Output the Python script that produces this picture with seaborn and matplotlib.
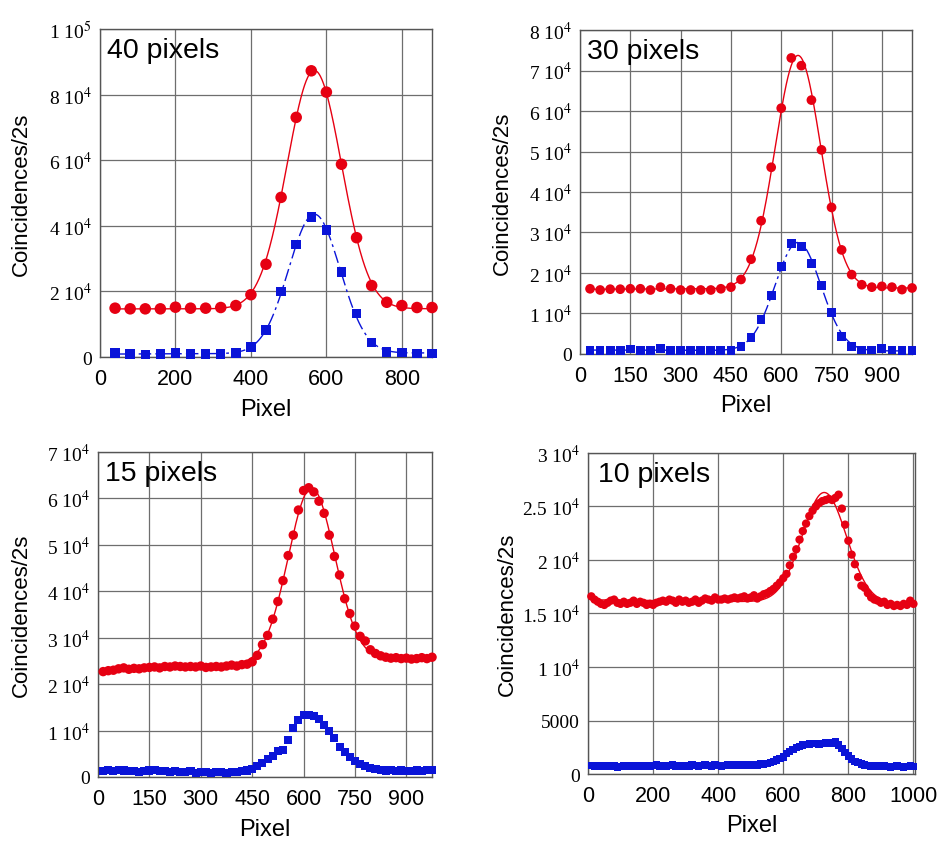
import numpy as np
import pandas as pd
import matplotlib
matplotlib.use("Agg")
import matplotlib.pyplot as plt
import seaborn as sns

# ---------------- data ----------------
# Panel 1: 40 pixels
p1_x = [40, 80, 120, 160, 200, 240, 280, 320, 360, 400, 440, 480, 520, 560, 600, 640, 680, 720, 760, 800, 840, 880]
p1_red = [14900, 14700, 14700, 14700, 15200, 14900, 14900, 15100, 15700, 19000, 28300, 48700, 73100, 87300,
          80800, 58800, 36400, 21800, 16700, 15700, 15100, 15100]
p1_blue = [1200, 900, 700, 900, 1200, 900, 900, 900, 1200, 3000, 8300, 20000, 34300, 42700,
           38800, 25900, 13200, 4500, 1600, 1400, 1100, 1100]

# Panel 2: 30 pixels
p2_x = [30, 60, 90, 120, 150, 180, 210, 240, 270, 300, 330, 360, 390, 420, 450, 480, 510, 540, 570, 600,
        630, 660, 690, 720, 750, 780, 810, 840, 870, 900, 930, 960, 990]
p2_red = [16100, 15800, 16000, 16000, 16100, 16100, 15800, 16500, 16100, 15800, 15800, 15800, 15800, 16100,
          16500, 18400, 23400, 32900, 46100, 60700, 73100, 71200, 62700, 50400, 36200, 25700, 19600, 17100,
          16500, 16700, 16500, 15900, 16300]
p2_blue = [900, 900, 900, 900, 1200, 900, 800, 1300, 900, 900, 900, 900, 900, 900,
           900, 1800, 4000, 8500, 14500, 21600, 27300, 26500, 22400, 16900, 10200, 4400, 1800, 1000,
           1000, 1300, 1000, 900, 900]

# Panel 3: 15 pixels
p3_x = list(range(15, 976, 15))
p3_red = [22700, 22900, 23000, 23300, 23500, 23200, 23400, 23300, 23500, 23600, 23700, 23500, 23800, 23700,
          23900, 23800, 23700, 23800, 23700, 23900, 23600, 23700, 23800, 23700, 23900, 24100, 23900, 24200,
          24300, 24800, 26200, 28500, 30500, 34000, 37800, 42300, 47700, 52100, 57500, 61700, 62300, 61400,
          59400, 56800, 52100, 47500, 43500, 38400, 35200, 32500, 30300, 29300, 27400, 26600, 26100, 25800,
          25600, 25700, 25500, 25600, 25400, 25500, 25700, 25500, 25800]
p3_blue = [1300, 1500, 1200, 1600, 1400, 1300, 1200, 1100, 1300, 1400, 1500, 1200, 1300, 1100,
           1200, 1000, 1100, 1200, 900, 1000, 1100, 900, 1000, 1100, 900, 1000, 1100, 1200,
           1400, 1800, 2300, 3000, 3900, 4600, 5600, 5800, 8000, 10500, 12300, 13400, 13300, 13200,
           12500, 11300, 10000, 8300, 6500, 5300, 4300, 3500, 2800, 2300, 1900, 1700, 1500, 1400,
           1500, 1300, 1400, 1300, 1200, 1400, 1300, 1500, 1600]

# Panel 4: 10 pixels
p4_x = list(range(10, 1001, 10))
p4_red = [16600, 16300, 16100, 15900, 15800, 16000, 16200, 16300, 16000, 15900,
          16100, 15900, 16000, 16200, 15900, 16100, 16000, 15800, 15900, 15800,
          16000, 16100, 16200, 16100, 16300, 16200, 16000, 16300, 16100, 16200,
          16000, 16100, 16300, 16000, 16200, 16400, 16300, 16200, 16500, 16300,
          16300, 16400, 16300, 16400, 16500, 16400, 16500, 16600, 16400, 16500,
          16700, 16400, 16600, 16800, 16900, 17100, 17300, 17600, 17900, 18300,
          18700, 19500, 20300, 21000, 21900, 22700, 23400, 24100, 24600, 25000,
          25300, 25500, 25600, 25700, 25600, 25800, 26100, 24800, 23300, 21800,
          20500, 19600, 18400, 17600, 17400, 16900, 16500, 16300, 16200, 16000,
          16100, 15800, 15900, 15700, 15800, 15700, 15900, 15800, 16200, 15900]
p4_blue = [800, 750, 800, 700, 750, 800, 700, 750, 650, 700,
           750, 800, 750, 700, 800, 750, 700, 800, 750, 800,
           850, 750, 800, 700, 800, 850, 750, 800, 700, 800,
           750, 850, 800, 750, 800, 850, 800, 750, 850, 800,
           750, 800, 850, 900, 800, 850, 800, 850, 900, 850,
           900, 850, 950, 900, 1000, 1100, 1200, 1300, 1450, 1600,
           1900, 2100, 2300, 2450, 2600, 2700, 2750, 2800, 2850, 2850,
           2800, 2850, 2900, 2850, 2900, 3000, 2700, 2400, 2000, 1700,
           1400, 1200, 1100, 950, 850, 800, 750, 700, 750, 700,
           750, 700, 650, 700, 750, 700, 650, 700, 750, 700]

titles = ["40 pixels", "30 pixels", "15 pixels", "10 pixels"]
xticks = [[0, 200, 400, 600, 800],
          [0, 150, 300, 450, 600, 750, 900],
          [0, 150, 300, 450, 600, 750, 900],
          [0, 200, 400, 600, 800, 1000]]
yticks = [[0, 20000, 40000, 60000, 80000, 100000],
          [0, 10000, 20000, 30000, 40000, 50000, 60000, 70000, 80000],
          [0, 10000, 20000, 30000, 40000, 50000, 60000, 70000],
          [0, 5000, 10000, 15000, 20000, 25000, 30000]]
ytick_labels = [["0", "2 10$^4$", "4 10$^4$", "6 10$^4$", "8 10$^4$", "1 10$^5$"],
                ["0", "1 10$^4$", "2 10$^4$", "3 10$^4$", "4 10$^4$", "5 10$^4$", "6 10$^4$", "7 10$^4$", "8 10$^4$"],
                ["0", "1 10$^4$", "2 10$^4$", "3 10$^4$", "4 10$^4$", "5 10$^4$", "6 10$^4$", "7 10$^4$"],
                ["0", "5000", "1 10$^4$", "1.5 10$^4$", "2 10$^4$", "2.5 10$^4$", "3 10$^4$"]]
xlims = [(0, 880), (0, 990), (0, 975), (0, 1005)]
ylims = [(0, 100000), (0, 80000), (0, 70000), (0, 30000)]


def gauss_fit(x, y, xs):
    x = np.asarray(x, float)
    y = np.asarray(y, float)
    best = (np.inf, None, None, None)
    for mu in np.arange(x.min(), x.max(), 4.0):
        for s in np.arange(20.0, 300.0, 4.0):
            g = np.exp(-(x - mu) ** 2 / (2 * s * s))
            A = np.column_stack([np.ones_like(x), x, g])
            coef = np.linalg.lstsq(A, y, rcond=None)[0]
            r = ((A @ coef - y) ** 2).sum()
            if r < best[0]:
                best = (r, mu, s, coef)
    _, mu, s, c = best
    return c[0] + c[1] * xs + c[2] * np.exp(-(xs - mu) ** 2 / (2 * s * s))


sns.set_style("white")
plt.rcParams["font.family"] = ["Liberation Sans", "DejaVu Sans"]
plt.rcParams["mathtext.fontset"] = "stix"
plt.rcParams["text.color"] = "black"
plt.rcParams["axes.labelcolor"] = "black"
plt.rcParams["xtick.color"] = "black"
plt.rcParams["ytick.color"] = "black"

RED = "#e60012"
BLUE = "#0a14d8"

fig = plt.figure(figsize=(9.46, 8.45), dpi=100)
rects = [(0.1057, 0.5763, 0.351, 0.388),
         (0.6131, 0.5799, 0.351, 0.3834),
         (0.1036, 0.0793, 0.3531, 0.3846),
         (0.6216, 0.0828, 0.3457, 0.3800)]
xs_data = [p1_x, p2_x, p3_x, p4_x]
reds = [p1_red, p2_red, p3_red, p4_red]
blues = [p1_blue, p2_blue, p3_blue, p4_blue]
red_ms = [8.3, 7, 6.8, 6]
blue_ms = [6.8, 6.3, 5.8, 5.3]
blue_line = [True, True, False, False]
ylabel_x = [-0.205, -0.202, -0.198, -0.215]

for i in range(4):
    ax = fig.add_axes(rects[i])
    df = pd.DataFrame({"Pixel": xs_data[i], "red": reds[i], "blue": blues[i]})
    xs = np.linspace(df["Pixel"].min(), df["Pixel"].max(), 600)
    fit_r = pd.DataFrame({"Pixel": xs, "fit": gauss_fit(df["Pixel"], df["red"], xs)})
    sns.lineplot(data=fit_r, x="Pixel", y="fit", ax=ax, color=RED, lw=1.0, zorder=3)
    if blue_line[i]:
        fit_b = pd.DataFrame({"Pixel": xs, "fit": gauss_fit(df["Pixel"], df["blue"], xs)})
        sns.lineplot(data=fit_b, x="Pixel", y="fit", ax=ax, color=BLUE, lw=1.0, zorder=3,
                     dashes=False, linestyle=(0, (9, 3, 2, 3)))
    sns.scatterplot(data=df, x="Pixel", y="red", ax=ax, color=RED, marker="o",
                    s=red_ms[i] ** 2, edgecolor="none", linewidth=0, zorder=4, clip_on=False)
    sns.scatterplot(data=df, x="Pixel", y="blue", ax=ax, color=BLUE, marker="s",
                    s=blue_ms[i] ** 2, edgecolor="none", linewidth=0, zorder=4, clip_on=False)

    ax.set_xlim(*xlims[i])
    ax.set_ylim(*ylims[i])
    ax.set_xticks(xticks[i])
    ax.set_xticklabels([str(t) for t in xticks[i]], fontsize=15.5)
    ax.set_yticks(yticks[i])
    ax.set_yticklabels(ytick_labels[i], fontsize=14, family="Liberation Serif")
    ax.tick_params(axis="x", length=0, pad=8)
    ax.tick_params(axis="y", length=0, pad=6)
    ax.grid(True, color="#6e6e6e", lw=0.9)
    ax.set_axisbelow(True)
    for sp in ax.spines.values():
        sp.set_color("#555555")
        sp.set_linewidth(1.0)
    ax.set_xlabel("Pixel", fontsize=17)
    ax.set_ylabel("Coincidences/2s", fontsize=16)
    ax.yaxis.set_label_coords(ylabel_x[i], 0.5)
    ax.xaxis.set_label_coords(0.5, -0.125)
    ax.text(0.02 if i < 3 else 0.03, 0.975, titles[i], transform=ax.transAxes,
            fontsize=20.5, va="top", ha="left", zorder=5)

fig.savefig("out.png", dpi=100)
